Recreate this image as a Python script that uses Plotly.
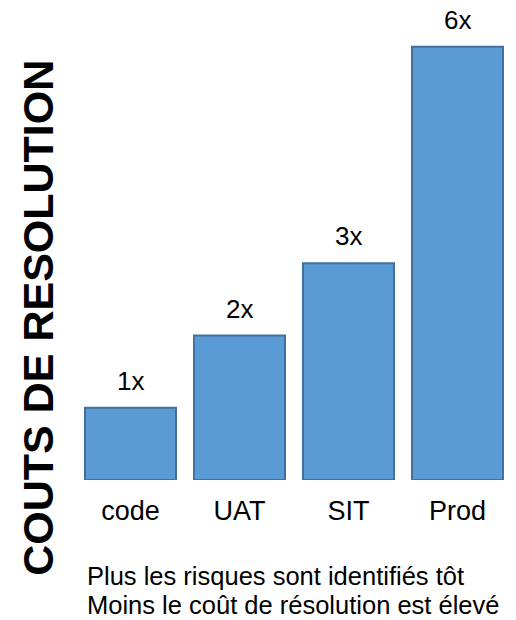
import plotly.graph_objects as go

categories = ["code", "UAT", "SIT", "Prod"]
values = [1, 2, 3, 6]
labels = ["1x", "2x", "3x", "6x"]
y_title = "COUTS DE RESOLUTION"
caption = ["Plus les risques sont identifiés tôt", "Moins le coût de résolution est élevé"]

fig = go.Figure()
fig.add_trace(go.Bar(
    x=categories, y=values,
    marker=dict(color="#5B9BD5", line=dict(color="#41719C", width=2)),
    hoverinfo="skip",
))
for c, v, t in zip(categories, values, labels):
    fig.add_annotation(x=c, y=v, text=t, showarrow=False, yanchor="bottom",
                       yshift=10, font=dict(size=26, color="#000"))

fig.add_annotation(xref="paper", yref="paper", x=-0.088, y=0.352, xanchor="center",
                   yanchor="middle", text="<b>" + y_title + "</b>", textangle=-90,
                   showarrow=False, font=dict(size=43, color="#000"))
for i, line in enumerate(caption):
    fig.add_annotation(xref="paper", yref="paper", x=0.022, y=(480 - 576 - 29 * i) / 460,
                       xanchor="left", yanchor="middle", align="left", text=line,
                       borderpad=0, showarrow=False, font=dict(size=25.5, color="#000"))

fig.update_layout(
    width=516, height=620,
    margin=dict(l=76, r=4, t=20, b=140),
    paper_bgcolor="white", plot_bgcolor="white",
    bargap=0.165,
    showlegend=False,
    font=dict(family="Liberation Sans, Arial, sans-serif", color="#000"),
    xaxis=dict(showline=False, ticks="", tickfont=dict(size=27), showgrid=False,
               ticklabelstandoff=12),
    yaxis=dict(range=[0, 6.37], visible=False, showgrid=False),
)
fig.write_html("out.html")
